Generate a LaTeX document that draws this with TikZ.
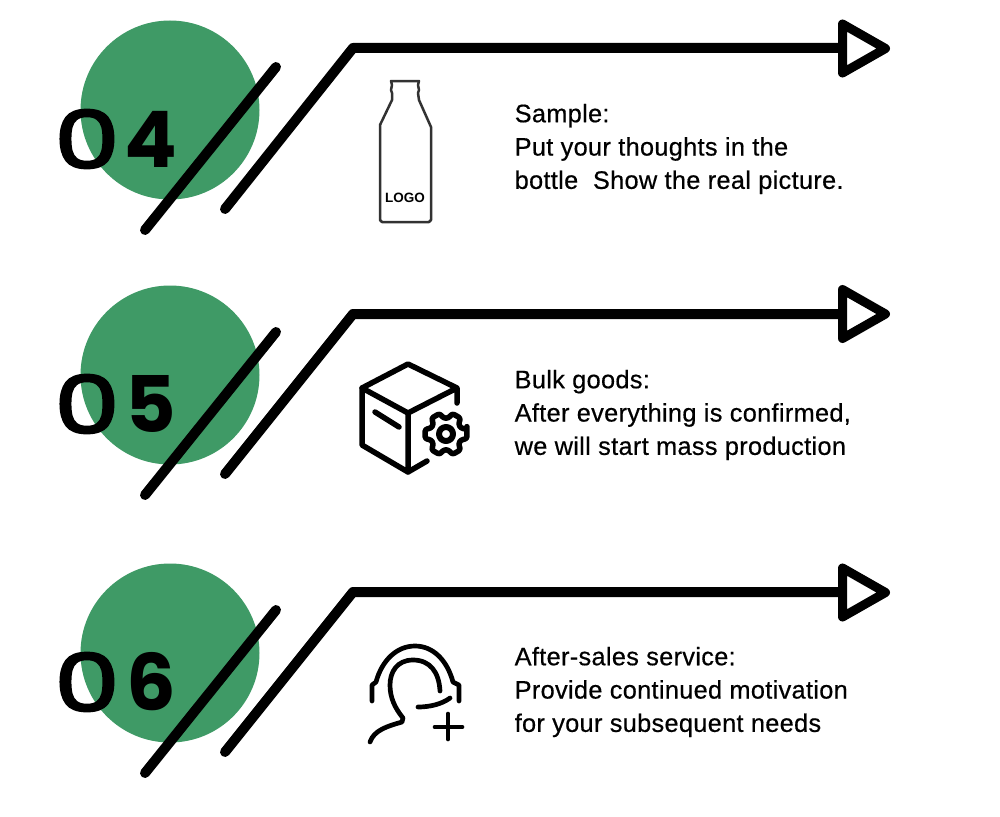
\documentclass[tikz,border=0pt]{standalone}
\usepackage{fontspec}
\setmainfont{Liberation Sans}[FakeBold=0.5, LetterSpace=1.3]
\newfontfamily\labelfont{Liberation Sans}
\newfontfamily\numfont{Poppins}
\newfontfamily\zerofont{Poppins}[FakeBold=2.5]
\usetikzlibrary{calc}
\definecolor{DarkGreen}{RGB}{63,154,102}
\definecolor{IconGray}{RGB}{50,50,50}
\tikzset{
	disc/.style={fill=DarkGreen, draw=none},
	bar/.style={line width=10pt, line cap=round, line join=round},
	tip/.style={line width=9pt, line join=round, fill=white},
	icon/.style={line width=4.7pt, line cap=round, line join=round},
	zero/.style={inner sep=0pt, font=\fontsize{80}{80}\zerofont, xscale=1.3},
	digit/.style={inner sep=0pt, font=\fontsize{78}{78}\numfont\bfseries},
	body/.style={anchor=west, inner sep=0pt, align=left, font=\fontsize{25.3}{33.3}\selectfont}
}

\begin{document}
\begin{tikzpicture}[x=1pt, y=-1pt]
		\useasboundingbox (0,0) rectangle (1000,816);
		% row 04
		\coordinate (C4) at (170,110);
		\coordinate (P4) at (145,230);
		\coordinate (Q4) at (276,67);
		\coordinate (R4) at (225,209);
		\coordinate (T4) at (353,48);
		\coordinate (U4) at (842,48);
		\coordinate (V4) at (842.5,24);
		\coordinate (W4) at (885.5,48.5);
		\coordinate (X4) at (842.5,73);
		\fill[disc] (C4) circle (89.5);
		\node[zero] (zero4) at (87,139) {0};
		\node[digit] (num4) at (151,139) {4};
		\draw[bar] (P4)--(Q4);
		\draw[bar] (R4)--(T4)--(U4);
		\draw[tip] (V4)--(W4)--(X4)--cycle;
		\node[body] (text4) at (514.5,149) {Sample:\\Put your thoughts in the\\bottle~ Show the real picture.};
		% bottle
		\draw[line width=2.5pt, IconGray, line join=round]
			(391,81)--(419,81)--(418,85)--(419,90)--(418,93)--(419,100)--(431,127)--(431,220)
			--(429,222)--(382,222)--(380,220)--(380,125)--(392,100)--(392,93)--(391,90)--(392,85)--cycle;
		\node[inner sep=0pt, font=\fontsize{13.5}{14}\labelfont\bfseries] (logo) at (405,198) {LOGO};
		% row 05
		\coordinate (C5) at (170,375);
		\coordinate (P5) at (145,495);
		\coordinate (Q5) at (276,332);
		\coordinate (R5) at (225,474);
		\coordinate (T5) at (353,314);
		\coordinate (U5) at (842,314);
		\coordinate (V5) at (842.5,289.5);
		\coordinate (W5) at (885.5,314);
		\coordinate (X5) at (842.5,338.5);
		\fill[disc] (C5) circle (89.5);
		\node[zero] (zero5) at (87,404) {0};
		\node[digit] (num5) at (151,404) {5};
		\draw[bar] (P5)--(Q5);
		\draw[bar] (R5)--(T5)--(U5);
		\draw[tip] (V5)--(W5)--(X5)--cycle;
		\node[body] (text5) at (514.5,415) {Bulk goods:\\After everything is confirmed,\\we will start mass production};
		% box and gear
		\draw[icon, line width=5.5pt] (457,403)--(457,388)--(408,364)--(362,388)--(408,413)--(457,388);
		\draw[icon, line width=5.5pt] (362,388)--(362,445)--(408,472)--(408,413);
		\draw[icon, line width=5.5pt] (408,472)--(427,461);
		\draw[icon, line width=5.5pt] (375,412)--(399,427);
		\coordinate (G) at (446,434);
		\draw[icon, line width=5.5pt, rounded corners=2.5pt] ($(G)+(-13:21.5)$)
			\foreach \a in {0,60,...,300} {
				-- ($(G)+(\a-13:21.5)$) -- ($(G)+(\a+13:21.5)$) -- ($(G)+(\a+21:16)$) -- ($(G)+(\a+39:16)$)
			} -- cycle;
		\draw[icon, line width=6pt] (G) circle (7);
		% row 06
		\coordinate (C6) at (170,653);
		\coordinate (P6) at (145,773);
		\coordinate (Q6) at (276,610);
		\coordinate (R6) at (225,752);
		\coordinate (T6) at (353,592);
		\coordinate (U6) at (842,592);
		\coordinate (V6) at (842.5,568);
		\coordinate (W6) at (885.5,592.5);
		\coordinate (X6) at (842.5,617);
		\fill[disc] (C6) circle (89.5);
		\node[zero] (zero6) at (87,682) {0};
		\node[digit] (num6) at (151,682) {6};
		\draw[bar] (P6)--(Q6);
		\draw[bar] (R6)--(T6)--(U6);
		\draw[tip] (V6)--(W6)--(X6)--cycle;
		\node[body] (text6) at (514.5,692) {After-sales service:\\Provide continued motivation\\for your subsequent needs};
		% headset
		\draw[icon] (372,701)--(372,685)--(376,682) .. controls (382,660) and (397,646) .. (415,646)
			.. controls (433,646) and (447,660) .. (453,682)--(459,685)--(459,701);
		\draw[icon] (440,691) .. controls (439,672) and (430,660) .. (413,660)
			.. controls (397,660) and (390,672) .. (390,685) .. controls (390,698) and (395,708) .. (403,718)
			--(402,722) .. controls (388,726) and (374,730) .. (370,742);
		\draw[icon] (418,707) .. controls (430,707) and (442,704) .. (450,698);
		\draw[icon] (435,727)--(462,727);
		\draw[icon] (448,714)--(448,739);
	\end{tikzpicture}
\end{document}
